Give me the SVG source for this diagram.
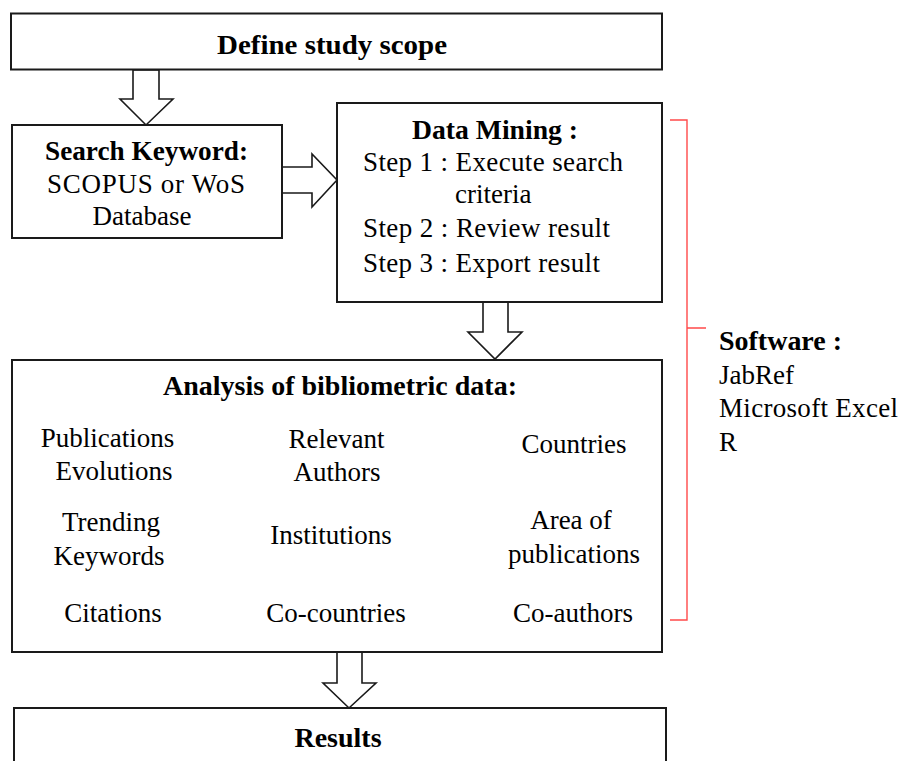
<svg xmlns="http://www.w3.org/2000/svg" width="900" height="761" viewBox="0 0 900 761">
<style>
.box{fill:#fff;stroke:#1a1a1a;stroke-width:2}
.arr{fill:#fff;stroke:#1a1a1a;stroke-width:1.6;stroke-linejoin:miter}
.t{font-family:"Liberation Serif","Times New Roman",serif;font-size:27px;fill:#000}
.b{font-weight:bold;font-size:28px}
.m{text-anchor:middle}
.br{fill:none;stroke:#ff4a4a;stroke-width:1.4}
</style>
<rect width="900" height="761" fill="#fff"/>
<g id="connectors">
<polygon class="arr" points="133,70 159,70 159,99 173,99 146,125 120,99 133,99"/>
<polygon class="arr" points="282,167 312,167 312,154 337,180 312,207 312,193 282,193"/>
<polygon class="arr" points="483,302 508,302 508,332 522,332 495,359 468,332 483,332"/>
<polygon class="arr" points="337,652 362,652 362,683 376,683 349,708 323,683 337,683"/>
</g>
<g id="scope">
<rect class="box" x="11" y="13.5" width="651" height="56"/>
<text class="t b m" x="332" y="53.5" textLength="230" lengthAdjust="spacingAndGlyphs">Define study scope</text>
</g>
<g id="search">
<rect class="box" x="12" y="125" width="270" height="113"/>
<text class="t b m" x="146.5" y="160" textLength="203" lengthAdjust="spacingAndGlyphs">Search Keyword:</text>
<text class="t m" x="146" y="192.5" textLength="198" lengthAdjust="spacing">SCOPUS or WoS</text>
<text class="t m" x="142" y="225">Database</text>
</g>
<g id="mining">
<rect class="box" x="337" y="103" width="325" height="199"/>
<text class="t b m" x="495" y="139" textLength="166" lengthAdjust="spacingAndGlyphs">Data Mining :</text>
<text class="t" x="363" y="171" textLength="260" lengthAdjust="spacing">Step 1 : Execute search</text>
<text class="t" x="455" y="203">criteria</text>
<text class="t" x="363" y="237" textLength="247" lengthAdjust="spacing">Step 2 : Review result</text>
<text class="t" x="363" y="272" textLength="237" lengthAdjust="spacing">Step 3 : Export result</text>
</g>
<g id="analysis">
<rect class="box" x="12" y="360" width="650" height="292"/>
<text class="t b m" x="340" y="395" textLength="354" lengthAdjust="spacingAndGlyphs">Analysis of bibliometric data:</text>
<text class="t m" x="107.5" y="447">Publications</text>
<text class="t m" x="114" y="480">Evolutions</text>
<text class="t m" x="336.5" y="448">Relevant</text>
<text class="t m" x="337" y="481">Authors</text>
<text class="t m" x="574" y="453">Countries</text>
<text class="t m" x="111" y="531">Trending</text>
<text class="t m" x="109" y="565">Keywords</text>
<text class="t m" x="331" y="544">Institutions</text>
<text class="t m" x="571" y="529">Area of</text>
<text class="t m" x="574" y="563">publications</text>
<text class="t m" x="113" y="622">Citations</text>
<text class="t m" x="336" y="622">Co-countries</text>
<text class="t m" x="573" y="622">Co-authors</text>
</g>
<g id="results">
<rect class="box" x="14" y="708" width="652" height="80"/>
<text class="t b m" x="338" y="747">Results</text>
</g>
<g id="software">
<path class="br" d="M670,120 H687 V620 H670 M687,328 H706"/>
<text class="t b" x="719" y="350" textLength="123" lengthAdjust="spacing">Software :</text>
<text class="t" x="719" y="384">JabRef</text>
<text class="t" x="719" y="417" textLength="179" lengthAdjust="spacing">Microsoft Excel</text>
<text class="t" x="719" y="451">R</text>
</g>
</svg>
